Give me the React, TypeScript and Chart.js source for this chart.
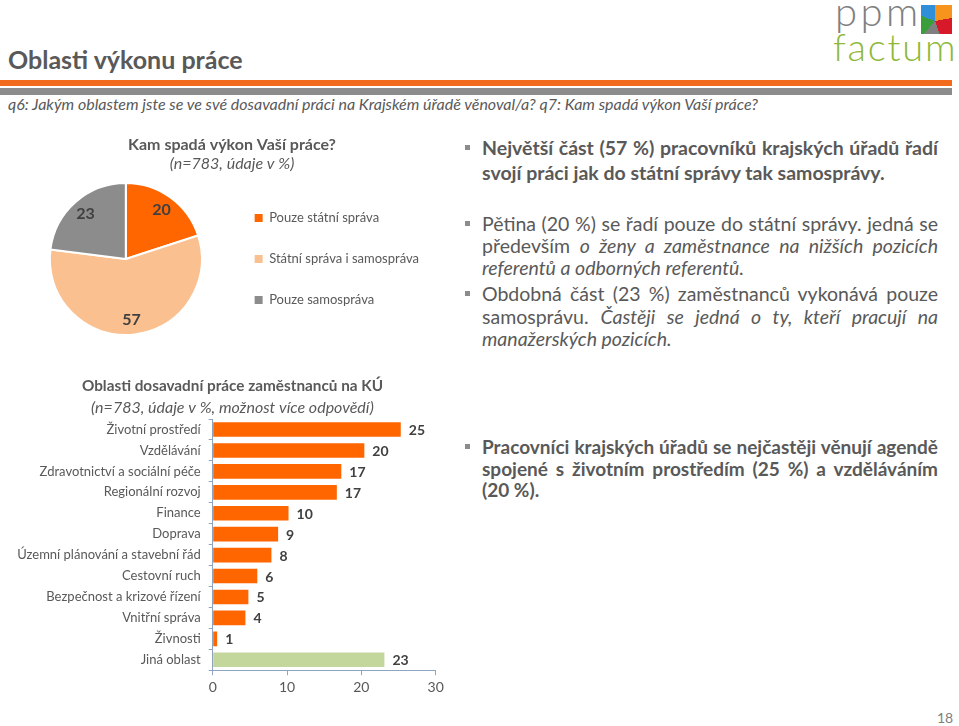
import React, { useEffect, useRef } from "react";
import { Chart, registerables } from "chart.js";

Chart.register(...registerables);

const FONT = "Lato";
const TEXT = "#595959";
const DARK = "#404040";
const AXIS = "#8EA4C1";

// Pie data
const pieCategories = ["Pouze státní správa", "Státní správa i samospráva", "Pouze samospráva"];
const pieValues = [20, 57, 23];
const pieColors = ["#FF6600", "#FAC090", "#8C8C8C"];

// Bar data
const barCategories = [
  "Životní prostředí",
  "Vzdělávání",
  "Zdravotnictví a sociální péče",
  "Regionální rozvoj",
  "Finance",
  "Doprava",
  "Územní plánování a stavební řád",
  "Cestovní ruch",
  "Bezpečnost a krizové řízení",
  "Vnitřní správa",
  "Živnosti",
  "Jiná oblast",
];
const barValues = [25.3, 20.4, 17.3, 16.7, 10.2, 8.8, 7.9, 6.0, 4.8, 4.4, 0.6, 23.1];
const barLabels = ["25", "20", "17", "17", "10", "9", "8", "6", "5", "4", "1", "23"];
const barColors = [
  "#FF6600", "#FF6600", "#FF6600", "#FF6600", "#FF6600", "#FF6600",
  "#FF6600", "#FF6600", "#FF6600", "#FF6600", "#FF6600", "#C3D69B",
];
const xTickMin = 0;
const xTickMax = 30;
const xTickStep = 10;

const pieLabelPlugin = {
  id: "pieLabels",
  afterDatasetsDraw(chart: any) {
    const meta = chart.getDatasetMeta(0);
    const ctx = chart.ctx;
    ctx.save();
    ctx.font = `bold 16px ${FONT}`;
    ctx.fillStyle = DARK;
    ctx.textAlign = "center";
    ctx.textBaseline = "middle";
    meta.data.forEach((arc: any, i: number) => {
      const p = arc.getProps(["x", "y", "startAngle", "endAngle", "outerRadius"], true);
      const mid = (p.startAngle + p.endAngle) / 2;
      const r = p.outerRadius * 0.8;
      ctx.fillText(String(pieValues[i]), p.x + Math.cos(mid) * r, p.y + Math.sin(mid) * r);
    });
    ctx.restore();
  },
};

const barLabelPlugin = {
  id: "barLabels",
  afterDatasetsDraw(chart: any) {
    const meta = chart.getDatasetMeta(0);
    const ctx = chart.ctx;
    ctx.save();
    ctx.font = `bold 14px ${FONT}`;
    ctx.fillStyle = DARK;
    ctx.textAlign = "left";
    ctx.textBaseline = "middle";
    meta.data.forEach((bar: any, i: number) => {
      const p = bar.getProps(["x", "y"], true);
      ctx.fillText(barLabels[i], p.x + 8, p.y + 1);
    });
    ctx.restore();
  },
};

const PIE_LEFT = 25;
const PIE_TOP = 128;
const PIE_W = 414;
const PIE_H = 218;
const PIE_LEGEND_FONT = 13;
const PIE_LEGEND_PAD = 28;
const PIE_BOX = 8;

const BAR_LEFT = 10;
const BAR_TOP = 372;
const BAR_W = 445;
const BAR_H = 328;

function PieChart() {
  const ref = useRef<HTMLCanvasElement>(null);
  useEffect(() => {
    const canvas = ref.current!;
    const m = document.createElement("canvas").getContext("2d")!;
    m.font = `${PIE_LEGEND_FONT}px ${FONT}`;
    const textW = Math.max(...pieCategories.map((c) => m.measureText(c).width));
    const spaceW = m.measureText("\u00A0").width;
    // widen the legend box so that the pie sits left of it (legend left edge ~227px on page)
    const wantLegendW = PIE_LEFT + PIE_W - 234;
    const extra = wantLegendW - (PIE_LEGEND_PAD + PIE_BOX + PIE_LEGEND_FONT / 2 + 3) - textW;
    const fill = "\u00A0".repeat(Math.max(0, Math.round(extra / spaceW)));
    const chart = new Chart(canvas, {
      type: "pie",
      data: {
        labels: pieCategories,
        datasets: [
          {
            data: pieValues,
            backgroundColor: pieColors,
            borderColor: "#ffffff",
            borderWidth: 2,
          },
        ],
      },
      options: {
        animation: false,
        responsive: false,
        layout: { padding: { left: 0, right: 0, top: 0, bottom: 10 } },
        plugins: {
          title: {
            display: true,
            text: "Kam spadá výkon Vaší práce?",
            color: TEXT,
            font: { family: FONT, size: 16, weight: "bold" },
            padding: { top: 7, bottom: 0 },
          },
          subtitle: {
            display: true,
            text: "(n=783, údaje v %)",
            color: TEXT,
            font: { family: FONT, size: 16, style: "italic" },
            padding: { top: 0, bottom: 8.6 },
          },
          legend: {
            position: "right",
            align: "center",
            fullSize: false,
            maxWidth: 260,
            labels: {
              boxWidth: PIE_BOX,
              boxHeight: PIE_BOX,
              padding: PIE_LEGEND_PAD,
              color: TEXT,
              font: { family: FONT, size: PIE_LEGEND_FONT },
              generateLabels: () =>
                pieCategories.map((label, i) => ({
                  text: label + fill,
                  fillStyle: pieColors[i],
                  strokeStyle: pieColors[i],
                  lineWidth: 0,
                  fontColor: TEXT,
                  hidden: false,
                  index: i,
                })),
            },
          },
          tooltip: { enabled: false },
        },
      } as any,
      plugins: [pieLabelPlugin],
    });
    return () => chart.destroy();
  }, []);
  return (
    <canvas
      ref={ref}
      width={PIE_W}
      height={PIE_H}
      style={{ position: "absolute", left: PIE_LEFT, top: PIE_TOP, width: PIE_W, height: PIE_H }}
    />
  );
}

function BarChart() {
  const ref = useRef<HTMLCanvasElement>(null);
  useEffect(() => {
    const canvas = ref.current!;
    const chart = new Chart(canvas, {
      type: "bar",
      data: {
        labels: barCategories,
        datasets: [
          {
            data: barValues,
            backgroundColor: barColors,
            barPercentage: 0.7,
            categoryPercentage: 1,
          },
        ],
      },
      options: {
        indexAxis: "y",
        animation: false,
        responsive: false,
        layout: { padding: { left: 0, right: 0, top: 0, bottom: 0 } },
        scales: {
          x: {
            min: xTickMin,
            max: xTickMax,
            ticks: { stepSize: xTickStep, color: TEXT, font: { family: FONT, size: 14 }, padding: 4 },
            grid: { drawOnChartArea: false, drawTicks: true, tickLength: 5, color: AXIS },
            border: { color: AXIS },
          },
          y: {
            ticks: { color: TEXT, font: { family: FONT, size: 13 }, padding: 8, autoSkip: false },
            grid: { drawOnChartArea: false, drawTicks: true, tickLength: 4, color: AXIS, offset: true },
            border: { color: AXIS },
            afterFit: (s: any) => {
              s.width = 212.7 - BAR_LEFT;
            },
          },
          gutter: {
            type: "linear",
            axis: "y",
            position: "right",
            ticks: { display: false },
            grid: { display: false, drawTicks: false },
            border: { display: false },
            afterFit: (s: any) => {
              s.width = BAR_LEFT + BAR_W - 435.7;
            },
          },
        },
        plugins: {
          legend: { display: false },
          tooltip: { enabled: false },
          title: {
            display: true,
            text: "Oblasti dosavadní práce zaměstnanců na KÚ",
            color: TEXT,
            font: { family: FONT, size: 15.3, weight: "bold" },
            padding: { top: 5, bottom: 1.5 },
          },
          subtitle: {
            display: true,
            text: "(n=783, údaje v %, možnost více odpovědí)",
            color: TEXT,
            font: { family: FONT, size: 16, style: "italic" },
            padding: { top: 1, bottom: 2 },
          },
        },
      } as any,
      plugins: [barLabelPlugin],
    });
    return () => chart.destroy();
  }, []);
  return (
    <canvas
      ref={ref}
      width={BAR_W}
      height={BAR_H}
      style={{ position: "absolute", left: BAR_LEFT, top: BAR_TOP, width: BAR_W, height: BAR_H }}
    />
  );
}

type Seg = { t: string; i?: boolean };

function Para({
  top,
  lines,
  bold,
  size,
  lh,
}: {
  top: number;
  lines: Seg[][];
  bold?: boolean;
  size: number;
  lh: number;
}) {
  return (
    <div style={{ position: "absolute", left: 465, top, width: 475 }}>
      <div
        style={{
          position: "absolute",
          left: 0,
          top: lh / 2 - 3,
          width: 5,
          height: 5,
          background: "#8C8C8C",
        }}
      />
      <div style={{ marginLeft: 17, width: 456 }}>
        {lines.map((segs, li) => (
          <div
            key={li}
            style={{
              fontFamily: FONT,
              fontSize: size,
              fontWeight: bold ? 700 : 400,
              color: TEXT,
              lineHeight: `${lh}px`,
              height: lh,
              textAlign: "justify",
              textAlignLast: li < lines.length - 1 ? "justify" : "left",
              whiteSpace: "nowrap",
            } as any}
          >
            {segs.map((s, si) => (
              <span key={si} style={{ fontStyle: s.i ? "italic" : "normal" }}>
                {s.t}
              </span>
            ))}
          </div>
        ))}
      </div>
    </div>
  );
}

export default function App() {
  return (
    <div
      style={{
        position: "absolute",
        left: 0,
        top: 0,
        width: 959,
        height: 726,
        background: "#ffffff",
        overflow: "hidden",
        fontFamily: FONT,
      }}
    >
      {/* Title */}
      <div
        style={{
          position: "absolute",
          left: 8,
          top: 44,
          fontSize: 25,
          fontWeight: 700,
          color: TEXT,
          lineHeight: "30px",
          whiteSpace: "nowrap",
        }}
      >
        Oblasti výkonu práce
      </div>
      {/* Header stripes */}
      <div style={{ position: "absolute", left: 0, top: 80, width: 952, height: 6, background: "#F26B1D" }} />
      <div style={{ position: "absolute", left: 0, top: 88, width: 952, height: 7, background: "#8C8C8C" }} />
      {/* Question */}
      <div
        style={{
          position: "absolute",
          left: 8,
          top: 94,
          fontSize: 16,
          fontStyle: "italic",
          color: TEXT,
          lineHeight: "20px",
          whiteSpace: "nowrap",
        }}
      >
        q6: Jakým oblastem jste se ve své dosavadní práci na Krajském úřadě věnoval/a? q7: Kam spadá výkon Vaší práce?
      </div>

      {/* Logo */}
      <div
        style={{
          position: "absolute",
          left: 835,
          top: -9,
          fontSize: 40,
          fontWeight: 300,
          color: "#7F7F7F",
          lineHeight: "40px",
          letterSpacing: 3.5,
          whiteSpace: "nowrap",
        }}
      >
        ppm
      </div>
      <div
        style={{
          position: "absolute",
          left: 833,
          top: 27,
          fontSize: 38,
          fontWeight: 300,
          color: "#8DB83A",
          lineHeight: "38px",
          letterSpacing: 1.8,
          whiteSpace: "nowrap",
        }}
      >
        factum
      </div>
      <div
        style={{
          position: "absolute",
          left: 921,
          top: 5,
          width: 31,
          height: 29,
          background:
            "conic-gradient(from 0deg at 45% 55%, #F7941D 0deg 80deg, #D7192A 80deg 160deg, #7F7F7F 160deg 220deg, #3A9E3A 220deg 290deg, #2F8FD8 290deg 360deg)",
        }}
      />

      <PieChart />
      <BarChart />

      <Para
        top={135}
        bold
        size={19.5}
        lh={25}
        lines={[
          [{ t: "Největší část (57 %) pracovníků krajských úřadů řadí" }],
          [{ t: "svojí práci jak do státní správy tak samosprávy." }],
        ]}
      />
      <Para
        top={213}
        size={19.5}
        lh={22}
        lines={[
          [{ t: "Pětina (20 %) se řadí pouze do státní správy. jedná se" }],
          [{ t: "především " }, { t: "o ženy a zaměstnance na nižších pozicích", i: true }],
          [{ t: "referentů a odborných referentů.", i: true }],
        ]}
      />
      <Para
        top={283}
        size={19.5}
        lh={22.5}
        lines={[
          [{ t: "Obdobná část (23 %) zaměstnanců vykonává pouze" }],
          [{ t: "samosprávu. " }, { t: "Častěji se jedná o ty, kteří pracují na", i: true }],
          [{ t: "manažerských pozicích.", i: true }],
        ]}
      />
      <Para
        top={436}
        bold
        size={19}
        lh={21.5}
        lines={[
          [{ t: "Pracovníci krajských úřadů se nejčastěji věnují agendě" }],
          [{ t: "spojené s životním prostředím (25 %) a vzděláváním" }],
          [{ t: "(20 %)." }],
        ]}
      />

      <div
        style={{
          position: "absolute",
          left: 937,
          top: 709,
          fontSize: 14,
          color: "#7F7F7F",
          lineHeight: "18px",
        }}
      >
        18
      </div>
    </div>
  );
}
